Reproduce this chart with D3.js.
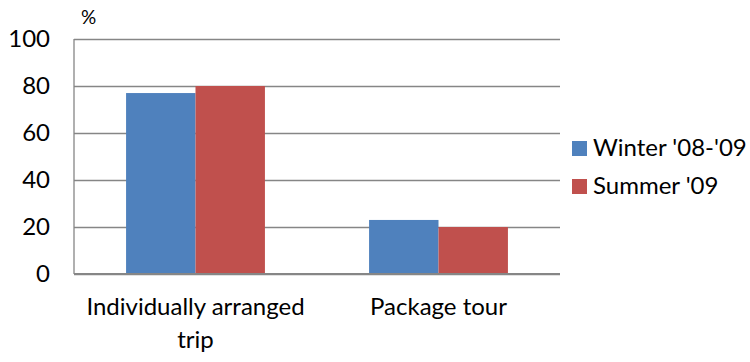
<!DOCTYPE html>
<html>
<head>
<meta charset="utf-8">
<script src="https://cdn.jsdelivr.net/npm/d3@7"></script>
<style>
  html, body { margin: 0; padding: 0; background: #fff; }
  svg { display: block; font-family: Lato, "Open Sans", sans-serif; }
</style>
</head>
<body>
<div id="chart"></div>
<script>
// Type of travel arrangement, share of trips in %
const categories = ["Individually arranged trip", "Package tour"];
const seriesNames = ["Winter '08-'09", "Summer '09"];
const winterValues = [77, 23];
const summerValues = [80, 20];
const yTicks = [0, 20, 40, 60, 80, 100];
const colors = ["#4F81BD", "#C0504D"];
const unitLabel = "%";

const width = 750, height = 362;
const margin = { top: 39, right: 190, bottom: 88, left: 74 };
const fontSize = 24;

const svg = d3.select("#chart").append("svg")
  .attr("width", width).attr("height", height);

const rows = categories.map((c, i) => ({ category: c, values: [winterValues[i], summerValues[i]] }));

const x0 = d3.scaleBand().domain(categories)
  .range([margin.left, width - margin.right]).paddingInner(0).paddingOuter(0);
const barW = x0.bandwidth() / 3.5; // gap width 150% of a bar
const x1 = d3.scaleBand().domain(seriesNames).range([0, barW * 2]);
const y = d3.scaleLinear().domain([0, 100]).range([height - margin.bottom, margin.top]);

// gridlines
svg.append("g")
  .attr("transform", `translate(${margin.left},0)`)
  .call(d3.axisLeft(y).tickValues(yTicks).tickSize(-(width - margin.right - margin.left)).tickFormat(""))
  .call(g => g.select(".domain").remove())
  .call(g => g.selectAll(".tick line").attr("stroke", "#868686").attr("stroke-width", 1.3));

// y tick labels
svg.append("g")
  .attr("transform", `translate(${margin.left},0)`)
  .call(d3.axisLeft(y).tickValues(yTicks).tickSize(0).tickPadding(24))
  .call(g => g.select(".domain").remove())
  .call(g => g.selectAll("text").attr("font-size", fontSize).attr("fill", "#000")
    .attr("font-family", "Lato, sans-serif"));

// bars
const groups = svg.append("g").selectAll("g").data(rows).join("g")
  .attr("transform", d => `translate(${x0(d.category) + (x0.bandwidth() - barW * 2) / 2},0)`);
groups.selectAll("rect")
  .data(d => d.values.map((v, i) => ({ name: seriesNames[i], value: v, i })))
  .join("rect")
  .attr("x", d => x1(d.name))
  .attr("width", x1.bandwidth())
  .attr("y", d => y(d.value))
  .attr("height", d => y(0) - y(d.value))
  .attr("fill", d => colors[d.i]);

// axes lines
svg.append("line")
  .attr("x1", margin.left).attr("x2", margin.left)
  .attr("y1", y(100)).attr("y2", y(0))
  .attr("stroke", "#868686").attr("stroke-width", 1.3);
svg.append("line")
  .attr("x1", margin.left).attr("x2", width - margin.right)
  .attr("y1", y(0)).attr("y2", y(0))
  .attr("stroke", "#868686").attr("stroke-width", 2);

// unit label
svg.append("text")
  .attr("x", margin.left + 7).attr("y", 24)
  .attr("font-size", 19).attr("fill", "#000")
  .text(unitLabel);

// category labels, wrapped
const catLines = [["Individually arranged", "trip"], ["Package tour"]];
svg.append("g").selectAll("text").data(categories).join("text")
  .attr("x", d => x0(d) + x0.bandwidth() / 2)
  .attr("y", 315)
  .attr("text-anchor", "middle")
  .attr("font-size", fontSize).attr("fill", "#000")
  .each(function(d, i) {
    d3.select(this).selectAll("tspan").data(catLines[i]).join("tspan")
      .attr("x", x0(d) + x0.bandwidth() / 2)
      .attr("dy", (t, j) => j === 0 ? 0 : 33)
      .text(t => t);
  });

// legend
const legend = svg.append("g").selectAll("g").data(seriesNames).join("g")
  .attr("transform", (d, i) => `translate(572,${141 + i * 38})`);
legend.append("rect").attr("width", 15).attr("height", 15)
  .attr("fill", (d, i) => colors[i]);
legend.append("text").attr("x", 21).attr("y", 15)
  .attr("font-size", fontSize).attr("fill", "#000")
  .text(d => d);
</script>
</body>
</html>
